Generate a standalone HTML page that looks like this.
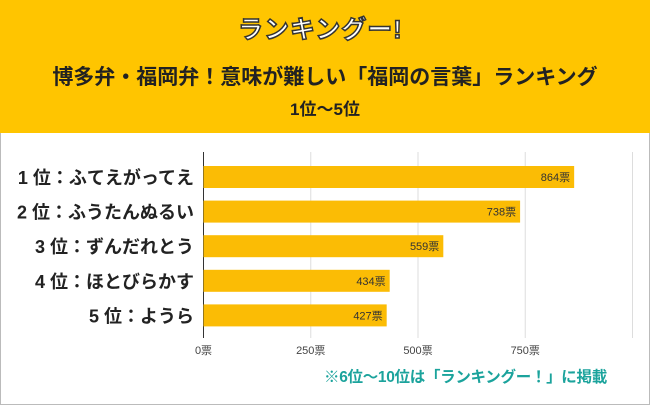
<!DOCTYPE html>
<html><head><meta charset="utf-8"><style>
body{margin:0;width:650px;height:406px;overflow:hidden;background:#fff;font-family:"Liberation Sans","Noto Sans CJK JP",sans-serif}
#hdr{position:absolute;left:0;top:0;width:650px;height:133px;background:#FFC500}
#panel{position:absolute;left:0;top:133px;width:648px;height:271px;border:1px solid #bbb;border-top:none}
.t{position:absolute;white-space:nowrap}
</style></head><body>
<div id="hdr">
 <div class="t" style="left:238px;top:10px;font-size:25px;font-weight:bold;color:#fff;-webkit-text-stroke:1.5px #333;letter-spacing:1px">ランキングー<span style="color:#fff">!</span></div>
 <div class="t" style="left:0;width:650px;text-align:center;top:61px;font-size:21px;font-weight:bold;color:#222">博多弁・福岡弁！意味が難しい「福岡の言葉」ランキング</div>
 <div class="t" style="left:0;width:650px;text-align:center;top:95px;font-size:17px;font-weight:bold;color:#222">1位～5位</div>
</div>
<div id="panel"></div>
<svg id="c" width="650" height="406" style="position:absolute;left:0;top:0"></svg>
<div class="t" style="left:324px;top:365px;font-size:15.5px;font-weight:bold;color:#1BA39C;letter-spacing:-0.3px">※6位～10位は「ランキングー！」に掲載</div>
<script>
const categories=["1 位：ふてえがってえ","2 位：ふうたんぬるい","3 位：ずんだれとう","4 位：ほとびらかす","5 位：ようら"];
const values=[864,738,559,434,427];
const ticks=[0,250,500,750,1000];
const tickLabels=["0票","250票","500票","750票",""];
const svg=document.getElementById('c');
const NS='http://www.w3.org/2000/svg';
const x=v=>203.5+v*0.429;
const y=i=>166+i*34.6;
function mk(t,a){const e=document.createElementNS(NS,t);for(const k in a)e.setAttribute(k,a[k]);svg.appendChild(e);return e;}
ticks.forEach((t,i)=>{
 const g=mk('line',{x1:x(t),x2:x(t),y1:152,y2:338,stroke:i==0?'#333':'#ddd','stroke-width':1});
 
 
 if(tickLabels[i]){const l=mk('text',{x:x(t),y:354,'text-anchor':'middle','font-size':11,fill:'#444'});l.textContent=tickLabels[i];
 
 }
});
values.forEach((v,i)=>{
 const b=mk('rect',{x:x(0),y:y(i),width:x(v)-x(0),height:22,fill:'#FBBC05'});
 
 
 const l=mk('text',{x:x(v)-4,y:y(i)+15,'text-anchor':'end','font-size':11,fill:'#333'});l.textContent=v+'票';
 
 
 const c=mk('text',{x:194,y:y(i)+18,'text-anchor':'end','font-size':18,'font-weight':'bold',fill:'#222'});c.textContent=categories[i];
 
 
});
</script>
</body></html>
